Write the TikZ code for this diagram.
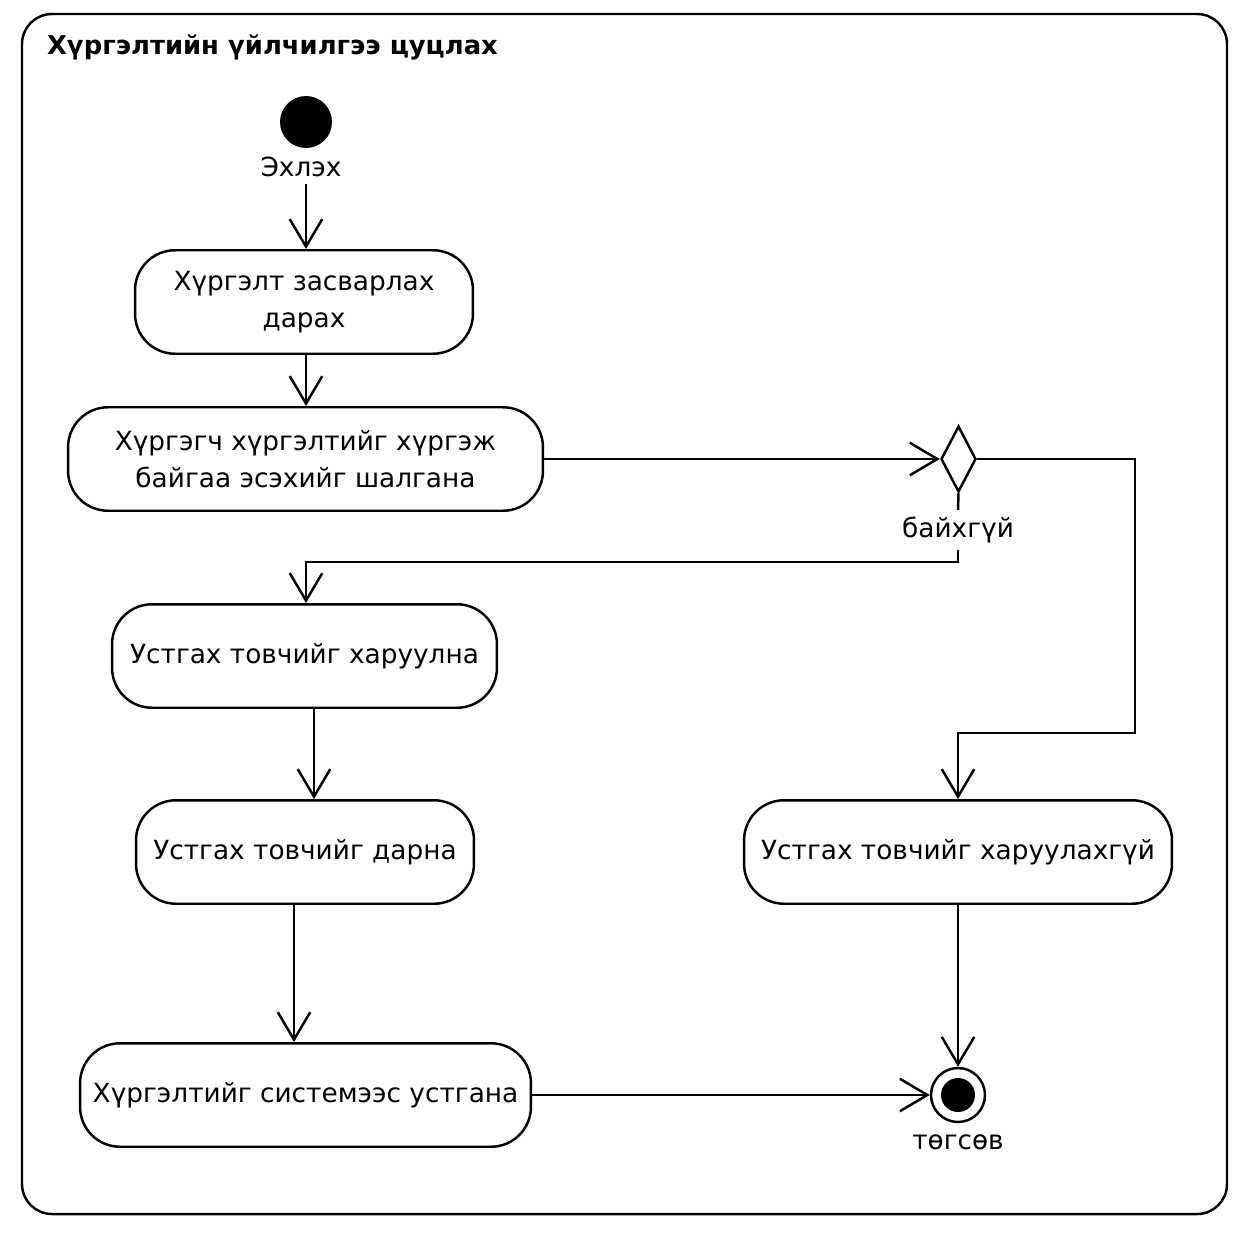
\documentclass[tikz,border=0pt]{standalone}
\usepackage{fontspec}
\setmainfont{DejaVu Sans}
\usetikzlibrary{positioning,arrows.meta,shapes.geometric}

\begin{document}
\begin{tikzpicture}[
      x=0.02cm, y=-0.02cm,
      line width=1.4pt,
      node distance=0.3cm,
      every node/.style={font=\fontsize{15}{21}\selectfont},
      action/.style={
        draw,
        rectangle,
        rounded corners=0.8cm,
        minimum height=2.07cm,
        align=center,
        inner sep=0pt
      },
      initial/.style={circle, fill, minimum size=1.04cm, inner sep=0pt},
      final/.style={circle, draw, minimum size=1.08cm, inner sep=0pt,
        path picture={\fill (path picture bounding box.center) circle (0.34cm);}},
      decision/.style={diamond, draw, minimum width=0.7cm, minimum height=1.32cm,
        inner sep=0pt, aspect=0.5},
      >={Straight Barb[length=0.55cm,width=0.65cm]} % arrow tip
    ]
    \useasboundingbox (0,0) rectangle (1250,1238);

    % Frame
    \draw[rounded corners=0.6cm] (22,14) rectangle (1227,1214);
    \node[anchor=west, font=\fontsize{14.7}{18}\selectfont\bfseries] (title) at (40,47)
      {Хүргэлтийн үйлчилгээ цуцлах};

    % Left column
    \node[initial] (start) at (306,122) {};
    \node (startlbl) at (301,167) {Эхлэх};
    \node[action, minimum width=6.76cm] (b1) at (304,302) {Хүргэлт засварлах\\дарах};
    \node[action, minimum width=9.5cm] (b2) at (305.5,459) {Хүргэгч хүргэлтийг хүргэж\\байгаа эсэхийг шалгана};
    \node[action, minimum width=7.7cm] (b3) at (304.5,656) {Устгах товчийг харуулна};
    \node[action, minimum width=6.76cm] (b4) at (305,852) {Устгах товчийг дарна};
    \node[action, minimum width=9.02cm] (b6) at (305.5,1095) {Хүргэлтийг системээс устгана};

    % Right column
    \node[decision] (dec) at (958.5,459) {};
    \node (nolbl) at (958,530) {байхгүй};
    \node[action, minimum width=8.56cm] (b5) at (958,852) {Устгах товчийг харуулахгүй};
    \node[final] (end) at (958,1095) {};
    \node (endlbl) at (958,1142) {төгсөв};

    % Arrows
    \draw[->] (startlbl.south -| start) -- (b1.north -| start);
    \draw[->] (b1.south -| start) -- (b2.north -| start);
    \draw[->] (b2) -- (dec);
    \draw (dec.south) -- (nolbl.north);
    \draw[->] (nolbl.south) -- ++(0,12) -| (b3.north -| start);
    \draw[->] (dec.east) -| ++(158,274) -| (b5.north);
    \draw[->] ([xshift=0.19cm]b3.south) -- ([xshift=0.19cm]b3.south |- b4.north);
    \draw[->] ([xshift=-0.22cm]b4.south) -- ([xshift=-0.22cm]b4.south |- b6.north);
    \draw[->] (b6) -- (end);
    \draw[->] (b5) -- (end);
  \end{tikzpicture}
\end{document}
